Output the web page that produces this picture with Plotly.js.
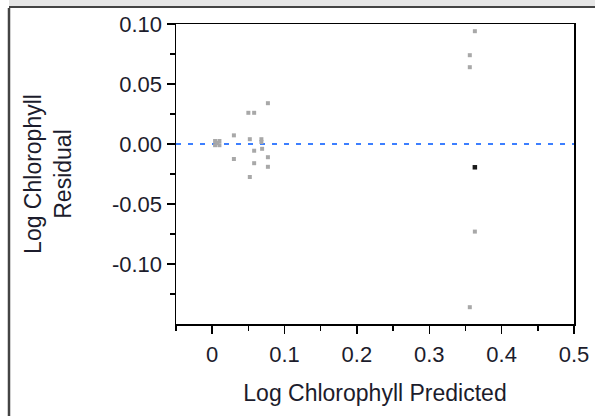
<!DOCTYPE html>
<html>
<head>
<meta charset="utf-8">
<script src="https://cdn.plot.ly/plotly-3.0.1.min.js"></script>
<style>
  html, body { margin: 0; padding: 0; background: #ffffff; }
  #chart { width: 595px; height: 416px; }
</style>
</head>
<body>
<div id="chart"></div>
<script>
// Predicted values (x) and residuals (y)
const predictedGray = [0.004, 0.010, 0.004, 0.010, 0.007,
                       0.030, 0.030,
                       0.050, 0.058, 0.052, 0.052, 0.058, 0.058,
                       0.068, 0.068, 0.069, 0.077, 0.077, 0.077,
                       0.363, 0.356, 0.356, 0.363, 0.356];
const residualGray  = [0.0025, 0.0025, -0.001, -0.001, 0.0008,
                       0.0072, -0.0125,
                       0.026, 0.026, 0.004, -0.0275, -0.0056, -0.016,
                       0.004, 0.0017, -0.004, 0.034, -0.011, -0.019,
                       0.094, 0.074, 0.064, -0.073, -0.136];
const predictedBlack = [0.363];
const residualBlack  = [-0.0194];

const xTickVals = [0, 0.1, 0.2, 0.3, 0.4, 0.5];
const xTickText = ['0', '0.1', '0.2', '0.3', '0.4', '0.5'];
const xMinorVals = [-0.05, 0.05, 0.15, 0.25, 0.35, 0.45];
const yTickVals = [-0.10, -0.05, 0.00, 0.05, 0.10];
const yTickText = ['-0.10', '-0.05', '0.00', '0.05', '0.10'];
const yMinorVals = [-0.125, -0.075, -0.025, 0.025, 0.075];

const xTitle = 'Log Chlorophyll Predicted';
const yTitle = 'Log Chlorophyll<br>Residual';

const FONT = 'Arial, "Liberation Sans", sans-serif';
const TXT = '#1c1c2c';

const traces = [
  {
    x: predictedGray, y: residualGray, type: 'scatter', mode: 'markers',
    marker: {symbol: 'square', size: 4, color: '#a8a8a8', line: {width: 0}},
    hoverinfo: 'skip', showlegend: false
  },
  {
    x: predictedBlack, y: residualBlack, type: 'scatter', mode: 'markers',
    marker: {symbol: 'square', size: 4.5, color: '#1a1a1a', line: {width: 0}},
    hoverinfo: 'skip', showlegend: false
  }
];

const layout = {
  width: 595, height: 416,
  margin: {l: 176, r: 21, t: 24, b: 92, pad: 0},
  paper_bgcolor: '#ffffff', plot_bgcolor: '#ffffff',
  font: {family: FONT, size: 22, color: TXT},
  showlegend: false,
  xaxis: {
    range: [-0.05, 0.5], autorange: false,
    tickmode: 'array', tickvals: xTickVals, ticktext: xTickText,
    ticks: 'outside', ticklen: 8, tickwidth: 1.5, tickcolor: '#000',
    ticklabelstandoff: 2,
    tickfont: {family: FONT, size: 22, color: TXT},
    showline: true, linecolor: '#000', linewidth: 1.5, mirror: true,
    showgrid: false, zeroline: false,
    minor: {tickmode: 'array', tickvals: xMinorVals, ticks: 'outside', ticklen: 5, tickwidth: 1.5, tickcolor: '#000', showgrid: false},
    title: {text: xTitle, font: {family: FONT, size: 23, color: TXT}, standoff: 19}
  },
  yaxis: {
    range: [-0.15, 0.10], autorange: false,
    tickmode: 'array', tickvals: yTickVals, ticktext: yTickText,
    ticks: 'outside', ticklen: 8, tickwidth: 1.5, tickcolor: '#000',
    tickfont: {family: FONT, size: 22, color: TXT},
    showline: true, linecolor: '#000', linewidth: 1.5, mirror: true,
    showgrid: false, zeroline: false,
    minor: {tickmode: 'array', tickvals: yMinorVals, ticks: 'outside', ticklen: 5, tickwidth: 1.5, tickcolor: '#000', showgrid: false},
    title: {text: yTitle, font: {family: FONT, size: 23, color: TXT}, standoff: 34}
  },
  shapes: [
    // zero reference line
    {type: 'line', xref: 'paper', yref: 'y', x0: 0, x1: 1, y0: 0, y1: 0,
     line: {color: '#3d7fff', width: 2, dash: '5px,7px'}, layer: 'below'},
    // header band
    {type: 'rect', xref: 'paper', yref: 'paper', x0: (9 - 176) / 398, x1: (600 - 176) / 398,
     y0: (324 - 6) / 300, y1: (324 + 2) / 300, fillcolor: '#e6e6e6', line: {width: 0}},
    {type: 'line', xref: 'paper', yref: 'paper', x0: (9 - 176) / 398, x1: (600 - 176) / 398,
     y0: (324 - 7) / 300, y1: (324 - 7) / 300, line: {color: '#444', width: 2}},
    // left frame line
    {type: 'line', xref: 'paper', yref: 'paper', x0: (9 - 176) / 398, x1: (9 - 176) / 398,
     y0: (324 - 8) / 300, y1: (324 - 420) / 300, line: {color: '#444', width: 2.5}}
  ]
};

Plotly.newPlot('chart', traces, layout, {displayModeBar: false, staticPlot: true});
</script>
</body>
</html>
